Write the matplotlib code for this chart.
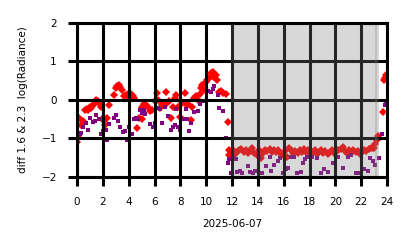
import matplotlib
matplotlib.use("Agg")
import matplotlib.pyplot as plt

# hours of the day (UTC) and log-radiance differences
red_hours = [0.0, 0.05, 0.15, 0.3, 0.45, 0.6, 0.75, 0.85, 1.0, 1.1, 1.25, 1.4, 1.5, 1.65,
             1.75, 1.85, 2.0, 2.1, 2.2, 2.35, 2.5, 2.9, 3.0, 3.1, 3.25, 3.35, 3.5, 3.65,
             3.8, 3.95, 4.05, 4.2, 4.3, 4.45, 4.65, 4.8, 5.0, 5.05, 5.2, 5.35, 5.5, 5.65,
             5.8, 6.0, 6.2, 6.3, 6.45, 6.6, 6.85, 7.0, 7.1, 7.25, 7.4, 7.55, 7.7, 7.85,
             8.0, 8.15, 8.35, 8.5, 8.6, 8.8, 8.9, 9.05, 9.2, 9.35, 9.5, 9.6, 9.7, 9.8,
             9.95, 10.1, 10.25, 10.35, 10.45, 10.5, 10.6, 10.75, 10.85, 11.0, 11.15, 11.3,
             11.5, 11.65, 11.75, 11.8,
             11.90, 12.07, 12.23, 12.40, 12.57, 12.73, 12.90, 13.07, 13.23, 13.40, 13.57,
             13.73, 13.90, 14.07, 14.23, 14.40, 14.57, 14.73, 14.90, 15.07, 15.23, 15.40,
             15.57, 15.73, 15.90, 16.07, 16.23, 16.40, 16.57, 16.73, 16.90, 17.07, 17.23,
             17.40, 17.57, 17.73, 17.90, 18.07, 18.23, 18.40, 18.57, 18.73, 18.90, 19.07,
             19.23, 19.40, 19.57, 19.73, 19.90, 20.07, 20.23, 20.40, 20.57, 20.73, 20.90,
             21.07, 21.23, 21.40, 21.57, 21.73, 21.90, 22.07, 22.23, 22.40, 22.57, 22.73,
             22.90, 23.0, 23.1, 23.2, 23.3, 23.65, 23.75, 23.85, 23.95]
red_diff = [-1.09, -0.95, -0.47, -0.65, -0.55, -0.26, -0.25, -0.26, -0.18, -0.22, -0.15,
            -0.08, -0.02, -0.05, -0.12, -0.2, -0.47, -0.55, -0.65, -0.47, -0.13, 0.13, 0.3,
            0.35, 0.38, 0.32, 0.25, 0.1, 0.12, 0.1, 0.18, 0.15, 0.1, 0.05, -0.75, -0.48,
            -0.5, -0.18, -0.12, -0.15, -0.2, -0.3, -0.28, -0.05, 0.18, 0.0, -0.22, -0.12,
            0.2, -0.1, -0.05, -0.47, -0.2, 0.05, 0.13, -0.2, -0.45, -0.1, 0.18, -0.15,
            -0.12, -0.52, -0.2, 0.05, 0.08, -0.02, 0.15, 0.3, 0.38, 0.25, 0.45, 0.5, 0.55,
            0.7, 0.62, 0.72, 0.58, 0.65, 0.5, 0.2, 0.22, 0.18, 0.15, -0.58, -1.3, -1.45,
            -1.38, -1.30, -1.42, -1.35, -1.32, -1.28, -1.35, -1.30, -1.38, -1.33, -1.27,
            -1.40, -1.45, -1.32, -1.52, -1.38, -1.30, -1.33, -1.28, -1.35, -1.30, -1.37,
            -1.32, -1.40, -1.45, -1.33, -1.50, -1.25, -1.30, -1.38, -1.33, -1.40, -1.30,
            -1.35, -1.28, -1.36, -1.32, -1.38, -1.35, -1.30, -1.42, -1.35, -1.32, -1.38,
            -1.33, -1.42, -1.36, -1.30, -1.40, -1.35, -1.30, -1.28, -1.22, -1.33, -1.38,
            -1.32, -1.40, -1.30, -1.36, -1.33, -1.42, -1.35, -1.30, -1.33, -1.28, -1.25,
            -1.27, -1.25, -1.15, -1.05, -0.95, -0.32, 0.5, 0.55, 0.65]

purple_hours = [0.2, 0.3, 0.5, 0.7, 0.85, 1.0, 1.2, 1.4, 1.5, 1.7, 1.85, 2.0, 2.25, 2.3,
                2.5, 2.85, 3.0, 3.2, 3.35, 3.55, 3.7, 3.9, 4.05, 4.25, 4.4, 4.6, 4.75,
                4.85, 5.05, 5.15, 5.3, 5.65, 5.9, 6.05, 6.25, 6.4, 6.6, 6.8, 7.05, 7.25,
                7.4, 7.55, 7.7, 7.85, 8.0, 8.2, 8.4, 8.55, 8.7, 8.85, 9.05, 9.35, 9.5,
                9.8, 10.15, 10.35, 10.5, 10.6, 10.9, 11.0, 11.3, 11.5, 11.7, 11.75,
                11.9, 12.15, 12.3, 12.35, 12.6, 12.8, 13.2, 13.4, 13.6, 13.8, 14.05, 14.3,
                14.6, 14.9, 15.0, 15.25, 15.55, 15.7, 15.95, 16.2, 16.35, 16.6, 16.8,
                17.05, 17.3, 17.5, 17.65, 17.8, 18.2, 18.6, 18.9, 19.15, 19.4, 19.85,
                20.2, 20.6, 21.0, 21.2, 21.6, 21.9, 22.25, 22.5, 22.7, 22.9, 23.05,
                23.35, 23.6, 23.8, 23.95]
purple_diff = [-0.9, -0.88, -0.7, -0.6, -0.78, -0.47, -0.58, -0.55, -0.4, -0.5, -0.9,
               -0.82, -0.78, -1.05, -0.63, -0.47, -0.4, -0.55, -0.7, -0.85, -0.82, -1.05,
               -0.7, -0.9, -0.5, -0.47, -0.5, -0.28, -0.35, -0.28, -0.38, -0.63, -0.72,
               -0.6, -0.22, -0.25, -0.6, -0.18, -0.43, -0.78, -0.72, -0.65, -0.25, -0.7,
               -0.78, -0.5, -0.25, -0.5, -0.82, -0.62, -0.33, -0.3, -0.12, -0.05, 0.22,
               0.2, 0.28, 0.35, 0.13, -0.22, -0.3, -1.0, -1.65, -1.55,
               -1.9, -1.53, -1.55, -1.87, -1.85, -1.9, -1.73, -1.88, -1.9, -1.85, -1.53,
               -1.9, -1.73, -1.5, -1.85, -1.7, -1.6, -1.52, -1.9, -1.8, -1.78, -1.48,
               -1.5, -1.9, -1.88, -1.65, -1.55, -1.48, -1.48, -1.53, -1.9, -1.8, -1.88,
               -1.65, -1.5, -1.78, -1.5, -1.45, -1.9, -1.9, -1.8, -1.85, -1.53, -1.6,
               -1.7, -1.53, -0.9, -0.15, -0.05]

night_start, night_end = 11.9, 23.35

plt.rcParams.update({'font.size': 7.5, 'font.family': 'DejaVu Sans'})

fig = plt.figure(figsize=(4.14, 2.48), dpi=100)
ax = fig.add_axes([0.186, 0.288, 0.749, 0.621])

ax.plot(red_hours, red_diff, linestyle='none', marker='D', markersize=3.6,
        color='red', markeredgewidth=0, zorder=2)
ax.plot(purple_hours, purple_diff, linestyle='none', marker='s', markersize=3.3,
        color='purple', markeredgewidth=0, zorder=2)

# night shading drawn over the points
ax.axvspan(night_start, night_end - 0.15, color='gray', alpha=0.3, lw=0, zorder=3)
ax.axvspan(night_end - 0.25, night_end, color='gray', alpha=0.3, lw=0, zorder=3)

ax.set_xlim(0, 24)
ax.set_ylim(-2, 2)
ax.set_xticks(range(0, 25, 2))
ax.set_yticks([-2, -1, 0, 1, 2])
ax.grid(True, color='black', linewidth=2.2, zorder=4)
ax.set_axisbelow(False)
ax.tick_params(length=6.5, width=2.2, color='black', pad=8)
for s in ax.spines.values():
    s.set_linewidth(2.2)
    s.set_zorder(5)

ax.set_xlabel("2025-06-07", labelpad=9)
ax.set_ylabel("diff 1.6 & 2.3  log(Radiance)", labelpad=10)

plt.savefig("out.png", dpi=100)
